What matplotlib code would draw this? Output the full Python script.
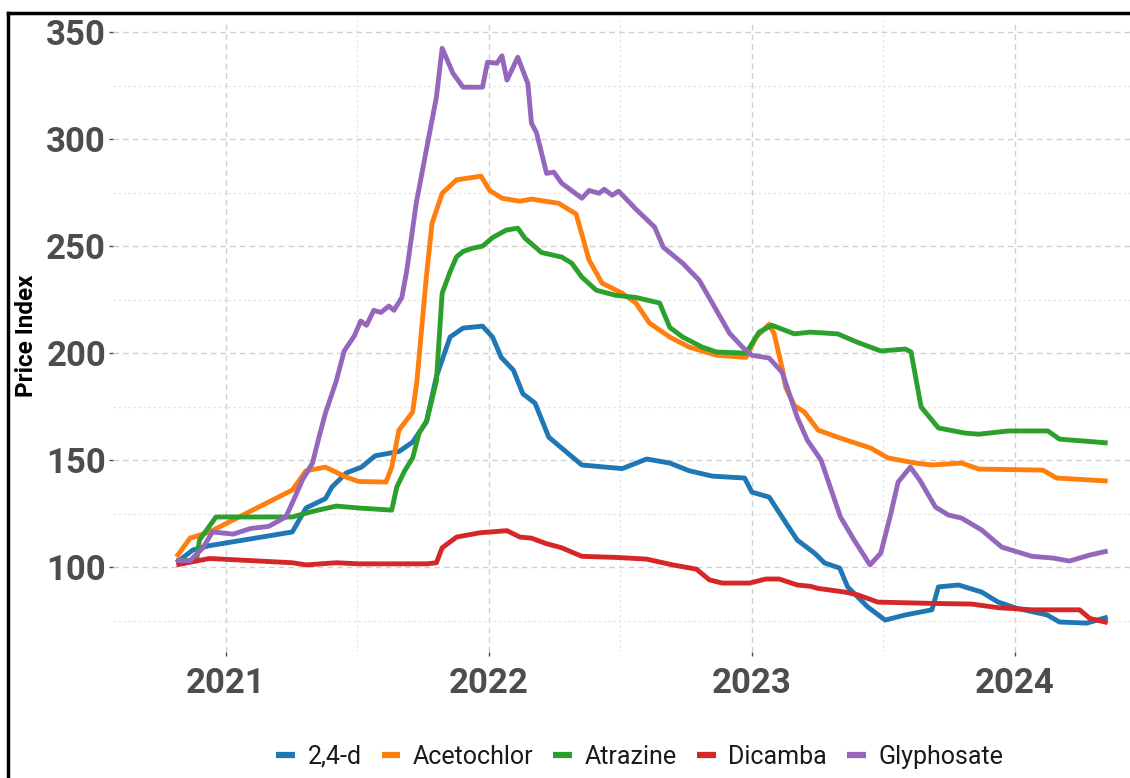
import matplotlib
matplotlib.use("Agg")
import matplotlib.pyplot as plt
from matplotlib.lines import Line2D
import pandas as pd

# ---------------- data ----------------
series_names = ["2,4-d", "Acetochlor", "Atrazine", "Dicamba", "Glyphosate"]
colors = ["#1f77b4", "#ff7f0e", "#2ca02c", "#d62728", "#9467bd"]

d24_dates = ["2020-10-24", "2020-11-16", "2020-12-09", "2021-01-25", "2021-04-03", "2021-04-22",
             "2021-05-19", "2021-05-28", "2021-06-17", "2021-07-08", "2021-07-27", "2021-08-29",
             "2021-09-17", "2021-10-06", "2021-10-20", "2021-11-08", "2021-11-26", "2021-12-23",
             "2022-01-06", "2022-01-18", "2022-02-04", "2022-02-17", "2022-03-06", "2022-03-25",
             "2022-04-12", "2022-05-10", "2022-07-05", "2022-08-08", "2022-09-09", "2022-10-06",
             "2022-11-07", "2022-12-22", "2023-01-01", "2023-01-25", "2023-02-21", "2023-03-05",
             "2023-03-29", "2023-04-12", "2023-05-03", "2023-05-14", "2023-06-11", "2023-07-05",
             "2023-08-02", "2023-09-08", "2023-09-17", "2023-10-15", "2023-11-16", "2023-12-09",
             "2024-01-03", "2024-02-15", "2024-03-03", "2024-04-10", "2024-05-09"]
d24_vals = [102, 108, 110, 112.6, 116.4, 127.6,
            132, 137.4, 144, 146.7, 152, 154,
            158.4, 167.8, 189, 207.5, 211.7, 212.6,
            207.5, 198, 192, 181, 176.6, 160.7,
            155.6, 147.7, 146, 150.5, 148.6, 145,
            142.5, 141.6, 135, 132.7, 118.7, 112.6,
            106.5, 101.9, 99.5, 90.7, 81.3, 75.2,
            77.6, 80, 90.7, 91.6, 88.3, 83.6,
            80.8, 77.6, 74.3, 73.8, 76.6]

aceto_dates = ["2020-10-24", "2020-11-12", "2020-12-09", "2021-04-03", "2021-04-22", "2021-05-19",
               "2021-06-17", "2021-07-04", "2021-08-11", "2021-08-19", "2021-08-29", "2021-09-17",
               "2021-09-23", "2021-10-06", "2021-10-14", "2021-10-28", "2021-11-17", "2021-12-21",
               "2022-01-02", "2022-01-19", "2022-02-13", "2022-03-01", "2022-04-08", "2022-05-02",
               "2022-05-20", "2022-06-07", "2022-07-05", "2022-07-24", "2022-08-12", "2022-09-09",
               "2022-10-06", "2022-11-13", "2022-12-24", "2023-01-07", "2023-01-25", "2023-02-01",
               "2023-02-12", "2023-02-17", "2023-03-01", "2023-03-15", "2023-04-03", "2023-04-30",
               "2023-06-15", "2023-07-09", "2023-08-16", "2023-09-08", "2023-10-19", "2023-11-12",
               "2024-02-09", "2024-02-28", "2024-05-09"]
aceto_vals = [104.7, 113.5, 116.4, 136, 145, 146.7,
              142, 140, 139.7, 146.7, 164, 172.4,
              187, 235.5, 260.7, 274.7, 281, 282.7,
              276, 272.4, 271, 272, 270, 265,
              243.5, 232.7, 228, 223.4, 214, 207.5,
              202.8, 199, 198, 207.5, 213.5, 209,
              193, 184, 175.5, 172.4, 164, 160.7,
              155.6, 151, 148.6, 147.7, 148.6, 145.8,
              145.3, 141.6, 140.2]

atra_dates = ["2020-10-24", "2020-11-21", "2020-11-25", "2020-12-18", "2021-04-03", "2021-05-01",
              "2021-06-03", "2021-07-04", "2021-08-19", "2021-08-26", "2021-09-06", "2021-09-17",
              "2021-09-26", "2021-10-07", "2021-10-20", "2021-10-28", "2021-11-08", "2021-11-17",
              "2021-11-26", "2021-12-09", "2021-12-23", "2022-01-06", "2022-01-25", "2022-02-10",
              "2022-02-20", "2022-03-15", "2022-04-12", "2022-04-26", "2022-05-10", "2022-05-30",
              "2022-06-26", "2022-07-24", "2022-08-26", "2022-09-09", "2022-09-27", "2022-10-24",
              "2022-11-13", "2022-12-24", "2023-01-11", "2023-01-29", "2023-03-01", "2023-03-23",
              "2023-04-30", "2023-05-28", "2023-06-29", "2023-08-02", "2023-08-10", "2023-08-24",
              "2023-09-17", "2023-10-24", "2023-11-12", "2023-12-23", "2024-02-16", "2024-03-03",
              "2024-05-09"]
atra_vals = [103, 103, 112.6, 123.4, 123.4, 126,
             128.5, 127.6, 126.6, 137.4, 145, 151,
             162.6, 168.7, 187, 228, 238, 245,
             247.5, 249, 250, 254, 257.5, 258.4,
             253.7, 247, 244.9, 242, 235.5, 229.4,
             227, 226, 223.4, 212, 207.5, 202.8,
             200.5, 200, 209.8, 213, 209, 209.8,
             209, 205, 201, 201.9, 200.5, 174.8,
             165, 162.6, 162.1, 163.6, 163.6, 159.8,
             158]

dica_dates = ["2020-10-24", "2020-12-09", "2021-04-03", "2021-04-22", "2021-06-03", "2021-07-04",
              "2021-10-07", "2021-10-20", "2021-10-28", "2021-11-17", "2021-12-19", "2022-01-26",
              "2022-02-13", "2022-03-01", "2022-03-21", "2022-04-12", "2022-05-10", "2022-06-26",
              "2022-08-08", "2022-09-13", "2022-10-16", "2022-11-03", "2022-11-21", "2022-12-29",
              "2023-01-20", "2023-02-08", "2023-03-05", "2023-03-23", "2023-04-03", "2023-05-10",
              "2023-05-28", "2023-06-25", "2023-09-08", "2023-11-02", "2023-12-09", "2024-01-25",
              "2024-03-31", "2024-04-14", "2024-05-09"]
dica_vals = [101, 104, 102, 101, 102, 101.5,
             101.5, 102, 109, 114, 116, 117,
             114, 113.5, 111, 109, 105, 104.5,
             103.7, 101, 99, 94, 92.5, 92.5,
             94.4, 94.4, 91.6, 91, 90, 88.3,
             87, 83.6, 83, 82.7, 81, 80,
             80, 76, 74]

gly_dates = ["2020-10-24", "2020-11-12", "2020-11-30", "2020-12-13", "2021-01-11", "2021-02-04",
             "2021-03-01", "2021-03-25", "2021-04-03", "2021-04-17", "2021-05-01", "2021-05-10",
             "2021-05-19", "2021-06-03", "2021-06-14", "2021-06-28", "2021-07-07", "2021-07-15",
             "2021-07-25", "2021-08-04", "2021-08-15", "2021-08-22", "2021-09-02", "2021-09-09",
             "2021-09-22", "2021-10-06", "2021-10-20", "2021-10-28", "2021-11-12", "2021-11-26",
             "2021-12-23", "2021-12-30", "2022-01-12", "2022-01-19", "2022-01-26", "2022-02-10",
             "2022-02-24", "2022-03-01", "2022-03-08", "2022-03-22", "2022-04-01", "2022-04-12",
             "2022-05-10", "2022-05-20", "2022-06-03", "2022-06-10", "2022-06-21", "2022-06-30",
             "2022-07-24", "2022-08-19", "2022-08-31", "2022-09-27", "2022-10-20", "2022-11-07",
             "2022-12-01", "2022-12-19", "2023-01-01", "2023-01-25", "2023-02-12", "2023-03-05",
             "2023-03-19", "2023-04-07", "2023-05-04", "2023-05-23", "2023-06-14", "2023-06-29",
             "2023-07-13", "2023-07-23", "2023-08-09", "2023-08-22", "2023-09-13", "2023-10-01",
             "2023-10-19", "2023-11-16", "2023-12-14", "2024-01-25", "2024-02-23", "2024-03-17",
             "2024-04-14", "2024-05-09"]
gly_vals = [103, 103, 109, 116.4, 115.4, 118,
            119, 123.4, 130, 140.7, 148.6, 160.7,
            172, 187, 201, 208, 215, 213,
            220, 219, 222, 220, 226, 238.8,
            270, 294.9, 319.6, 342.5, 330.8, 324.3,
            324.3, 336, 335.5, 339, 327.6, 338.3,
            326, 307.5, 303, 284, 284.6, 279.4,
            272.4, 276, 274.7, 276.6, 273.8, 275.7,
            267.3, 258.9, 249.5, 242, 234, 223.4,
            209.3, 202.8, 199, 197.7, 191, 170,
            159.3, 150, 123.4, 112.6, 101, 106.5,
            125, 139.7, 146.7, 140.7, 128, 124.3,
            122.9, 117.3, 109.3, 105, 104.2, 102.8,
            105.6, 107.5]

year_ticks = ["2021-01-01", "2022-01-01", "2023-01-01", "2024-01-01"]
year_labels = ["2021", "2022", "2023", "2024"]
mid_ticks = ["2021-07-02", "2022-07-02", "2023-07-02"]
y_ticks = [100, 150, 200, 250, 300, 350]
y_minor = [75, 125, 175, 225, 275, 325]

all_dates = [d24_dates, aceto_dates, atra_dates, dica_dates, gly_dates]
all_vals = [d24_vals, aceto_vals, atra_vals, dica_vals, gly_vals]

# ---------------- plot ----------------
plt.rcParams['font.family'] = ['Roboto', 'DejaVu Sans']
fig = plt.figure(figsize=(11.30, 7.78), dpi=100)
ax = fig.add_axes([0.1, 0.162, 0.9, 0.812])

for name, col, ds, vs in zip(series_names, colors, all_dates, all_vals):
    ax.plot(pd.to_datetime(ds), vs, color=col, lw=3.5, label=name,
            solid_joinstyle="round", solid_capstyle="butt")

ax.set_xticks(pd.to_datetime(year_ticks))
ax.set_xticklabels(year_labels)
ax.set_xticks(pd.to_datetime(mid_ticks), minor=True)
ax.set_yticks(y_ticks)
ax.set_yticks(y_minor, minor=True)
ax.set_xlim(pd.Timestamp("2020-07-28"), pd.Timestamp("2024-06-09"))
ax.set_ylim(60.3, 355.6)

ax.grid(which="major", color="#d0d0d0", lw=1.0, ls=(0, (4, 3)))
ax.grid(which="minor", color="#e6e6e6", lw=0.9, ls=(0, (2, 2)))
ax.set_axisbelow(True)

for s in ax.spines.values():
    s.set_visible(False)

ax.tick_params(axis="both", which="major", labelsize=25, labelcolor="#4d4d4d",
               color="#4d4d4d", length=3, width=1)
ax.tick_params(axis="both", which="minor", length=0)
ax.tick_params(axis="x", pad=8)
ax.tick_params(axis="y", pad=2)
for lab in ax.get_xticklabels() + ax.get_yticklabels():
    lab.set_fontweight("bold")

ax.set_ylabel("Price Index", fontsize=17.5, fontweight="bold", color="black", labelpad=6)

leg = fig.legend(loc="center", bbox_to_anchor=(0.566, 0.027), ncol=5, frameon=False,
                 fontsize=18, handlelength=0.75, handletextpad=0.5, columnspacing=0.8)
for h in leg.get_lines():
    h.set_linewidth(4.5)
for t in leg.get_texts():
    t.set_color("#1a1a1a")

# outer frame lines (top and left) as in reference
fig.add_artist(Line2D([0.0071, 0.0071], [0.0, 0.9833], transform=fig.transFigure,
                      color="black", lw=2.5))
fig.add_artist(Line2D([0.0071, 1.0], [0.9833, 0.9833], transform=fig.transFigure,
                      color="black", lw=2.5))

fig.savefig("out.png", dpi=100, facecolor="white")
